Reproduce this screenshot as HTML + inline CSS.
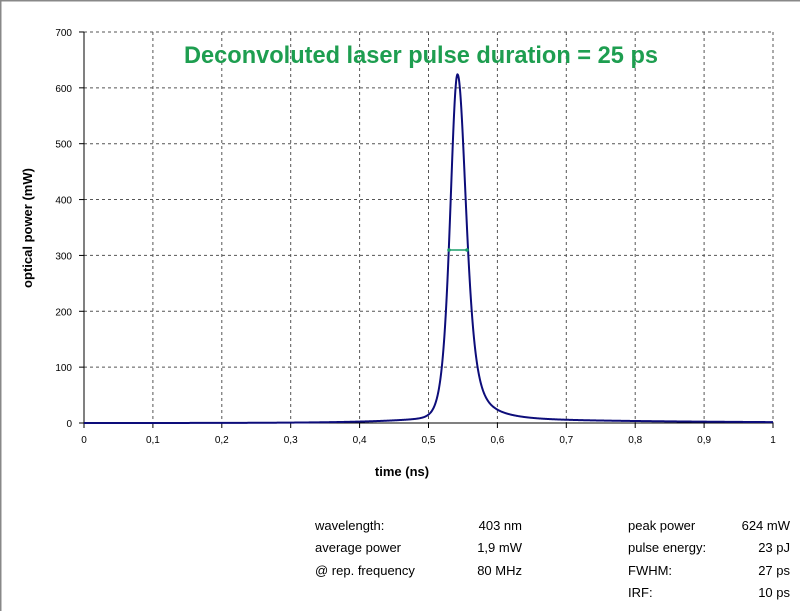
<!DOCTYPE html>
<html><head><meta charset="utf-8"><style>
body{margin:0;background:#fff;}
svg{display:block;font-family:"Liberation Sans",sans-serif;}
</style></head><body>
<svg id="s" width="800" height="611" xmlns="http://www.w3.org/2000/svg">
<rect x="0.5" y="0.5" width="820" height="640" fill="#fff" stroke="#888" stroke-width="2"/>
<g id="grid" stroke="#555" stroke-dasharray="3,3" stroke-width="1"></g>
<g id="ticks" font-size="10" fill="#000"></g>
<line x1="84" y1="32" x2="84" y2="423" stroke="#000" stroke-width="1"/>
<line x1="84" y1="423" x2="773" y2="423" stroke="#000" stroke-width="1"/>
<path id="curve" fill="none" stroke="#0d0d7a" stroke-width="2"/>
<line x1="449" y1="250" x2="467" y2="250" stroke="#1a9e6a" stroke-width="1.5"/>
<circle cx="449" cy="250" r="1.8" fill="#1a9e6a"/><circle cx="467" cy="250" r="1.8" fill="#1a9e6a"/>
<text x="421" y="63" font-size="23.6" font-weight="bold" fill="#1e9e50" text-anchor="middle">Deconvoluted laser pulse duration = 25 ps</text>
<text x="32" y="228" font-size="13" font-weight="bold" text-anchor="middle" transform="rotate(-90 32 228)">optical power (mW)</text>
<text x="402" y="476" font-size="13" font-weight="bold" text-anchor="middle">time (ns)</text>
<g font-size="13" fill="#000">
<text x="315" y="530">wavelength:</text><text x="522" y="530" text-anchor="end">403 nm</text>
<text x="315" y="552">average power</text><text x="522" y="552" text-anchor="end">1,9 mW</text>
<text x="315" y="575">@ rep. frequency</text><text x="522" y="575" text-anchor="end">80 MHz</text>
<text x="628" y="530">peak power</text><text x="790" y="530" text-anchor="end">624 mW</text>
<text x="628" y="552">pulse energy:</text><text x="790" y="552" text-anchor="end">23 pJ</text>
<text x="628" y="575">FWHM:</text><text x="790" y="575" text-anchor="end">27 ps</text>
<text x="628" y="597">IRF:</text><text x="790" y="597" text-anchor="end">10 ps</text>
</g>
</svg>
<script>
var X=function(t){return 84+t*689},Y=function(v){return 423-v*0.5586};
var g=document.getElementById('grid'),tk=document.getElementById('ticks'),ns='http://www.w3.org/2000/svg';
function el(p,n,a,txt){var e=document.createElementNS(ns,n);for(var k in a)e.setAttribute(k,a[k]);if(txt)e.textContent=txt;p.appendChild(e);}
for(var i=0;i<=10;i++){var x=X(i/10);if(i>0)el(g,'line',{x1:x,y1:32,x2:x,y2:423});
el(tk,'line',{x1:x,y1:423,x2:x,y2:428,stroke:'#000'});
el(tk,'text',{x:x,y:443,'text-anchor':'middle'},i==0?'0':i==10?'1':'0,'+i);}
for(var j=0;j<=7;j++){var y=Y(j*100);if(j>0)el(g,'line',{x1:84,y1:y,x2:773,y2:y});
el(tk,'line',{x1:79,y1:y,x2:84,y2:y,stroke:'#000'});
el(tk,'text',{x:72,y:y+4,'text-anchor':'end'},''+j*100);}
var tp=0.5421,d='';
function sech2(u){var c=Math.cosh(u);return 1/(c*c);}
for(var k=0;k<=2000;k++){var t=k/2000,dt=t-tp,v;
if(dt<0){var s=sech2(0.8814*dt/0.0124);v=624*s+(1-s)*15*Math.exp(dt/0.08);}
else{var s=sech2(0.8814*dt/0.0138);v=624*s+(1-s)*(100*Math.exp(-dt/0.03)+10*Math.exp(-dt/0.25));}
d+=(k?'L':'M')+X(t).toFixed(2)+','+Y(v).toFixed(2);}
document.getElementById('curve').setAttribute('d',d);
</script>
</body></html>
